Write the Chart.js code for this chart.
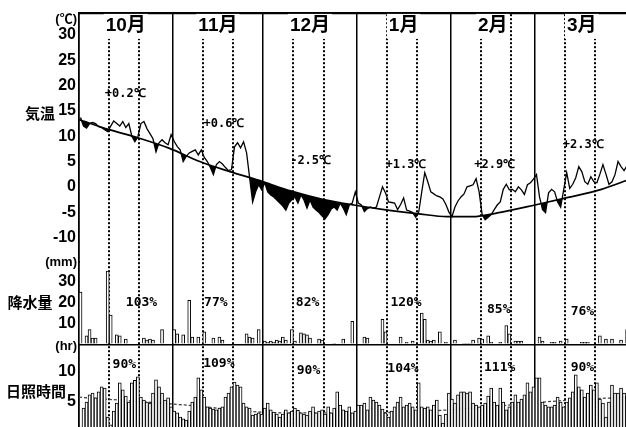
<!DOCTYPE html>
<html>
<head>
<meta charset="utf-8">
<script src="https://cdn.jsdelivr.net/npm/chart.js@4.4.1/dist/chart.umd.min.js"></script>
<style>
  html, body { margin: 0; padding: 0; overflow: hidden; background: #fff; }
  #box { position: relative; width: 630px; height: 432px; }
</style>
</head>
<body>
<div id="box"><canvas id="c" width="630" height="432"></canvas></div>
<script>
// ---- data: daily values, 1 Oct .. 31 Mar ----
const monthNames = ['10月', '11月', '12月', '1月', '2月', '3月'];
const monthDays = [31, 30, 31, 31, 28, 31];

const tempAnomaly = ['+0.2℃', '+0.6℃', '-2.5℃', '+1.3℃', '+2.9℃', '+2.3℃'];
const precipRatio = ['103%', '77%', '82%', '120%', '85%', '76%'];
const sunRatio = ['90%', '109%', '90%', '104%', '111%', '90%'];

const tempTicks = [30, 25, 20, 15, 10, 5, 0, -5, -10];
const precipTicks = [30, 20, 10, 0];
const sunTicks = [10, 5];

// daily mean temperature (℃)
const tempDaily = [
  13.7, 12.0, 11.6, 12.5, 12.7, 12.5, 11.9, 11.7, 11.3, 10.9, 12.0, 13.0, 12.5, 12.0, 12.9, 11.7, 12.5, 10.0, 8.9, 9.9, 12.5, 12.9, 11.5, 10.5, 9.5, 6.9, 8.7, 9.3, 8.7, 8.3, 10.3,
  9.0, 8.0, 7.3, 5.0, 6.0, 6.7, 7.0, 7.3, 6.3, 7.3, 5.8, 5.0, 3.8, 2.4, 4.4, 5.0, 4.5, 3.8, 3.2, 3.4, 7.9, 8.7, 7.7, 8.9, 6.7, 1.8, -3.0, -1.0, 0.4, -0.6,
  0.8, -1.0, -1.6, -2.0, -2.6, -3.2, -3.8, -4.6, -3.2, -2.5, -2.0, -3.2, -1.6, -2.6, -4.2, -2.6, -4.0, -4.6, -5.1, -5.8, -6.3, -5.5, -4.4, -4.0, -4.6, -3.2, -4.2, -5.5, -3.6, -3.2, -1.0,
  -3.2, -3.6, -4.9, -4.3, -4.0, -4.2, -4.0, -2.0, 0.0, -1.2, -3.0, -3.1, -3.2, -4.5, -3.5, -2.2, -4.6, -4.8, -5.1, -6.0, -5.0, -1.0, 2.8, 1.0, -1.0, -1.4, -1.8, -2.0, -2.4, -3.5, -5.0,
  -5.9, -4.0, -2.8, -2.0, -1.4, 0.0, 0.2, 0.4, 1.6, -1.0, -5.5, -6.5, -6.0, -5.5, -4.5, -3.6, -3.0, -0.5, 0.5, -0.6, -0.5, -1.0, 0.0, -0.6, -1.5, 0.4, 0.8, 1.5,
  2.4, -2.0, -4.5, -5.1, -1.2, -0.5, -1.0, -3.0, -4.0, -0.6, 2.8, -0.3, 0.5, 1.8, 4.0, 3.0, 1.0, 0.5, 2.0, 1.0, 0.8, 2.5, 4.4, 2.5, 0.5, 1.0, 2.4, 5.0, 4.0, 3.2, 4.2
];

// normal temperature curve (day offset from 1 Oct, ℃)
const normalTempDay = [0, 10, 20, 30, 40, 50, 61, 70, 81, 91, 101, 112, 122, 130, 140, 151, 162, 173, 182];
const normalTemp = [13.3, 11.3, 9.6, 7.6, 5.0, 3.0, 1.0, -0.8, -2.5, -3.6, -4.5, -5.3, -5.9, -5.9, -5.0, -3.6, -2.1, -0.5, 1.4];

// daily precipitation (mm)
const precipDaily = [
  25, 0, 4, 7, 3, 3, 0, 0, 0, 35, 14, 0, 4.5, 4, 0, 2.5, 0, 0, 0, 0, 0, 3, 2, 2.5, 2, 0, 0, 7, 0, 0, 0,
  7, 5, 0, 4.5, 0, 21, 3.5, 0, 3.5, 0, 6, 0, 0, 3, 0, 3.5, 2, 0, 0, 0, 0, 0, 0, 0, 5, 3.5, 3, 0, 7, 0,
  1.5, 1, 1.5, 1, 2, 1.5, 3.5, 2, 0, 7, 1.5, 0, 5.5, 5, 4.5, 3, 0, 0, 2.5, 2, 0, 0, 0, 0.5, 0, 0, 2.5, 0, 0, 11, 0,
  0, 0, 3.5, 3, 0, 0, 0, 0, 12, 6, 0, 0, 0, 0, 3.5, 0, 1, 0, 1.5, 0, 0, 15, 12, 2, 1.5, 2, 0, 6, 0, 1, 0,
  0, 2, 0, 0, 0.5, 0.5, 0.5, 2, 0, 3, 2.5, 0, 4, 1, 0, 0, 1, 0, 9, 5, 0, 1.5, 1.5, 1.5, 0, 0, 0, 0,
  0, 3.5, 1.5, 0, 0, 1, 1, 0, 1.5, 0, 2.5, 0, 0, 0, 0, 1, 1, 1, 0, 0, 0, 4, 0, 2.5, 0, 2.5, 0, 0, 2, 0, 7
];

// daily sunshine duration (hr)
const sunDaily = [
  0.8, 4.0, 5.0, 6.2, 6.5, 5.7, 6.7, 7.5, 7.3, 2.5, 1.2, 3.5, 4.8, 8.2, 7.0, 6.0, 5.0, 8.2, 8.6, 9.2, 5.8, 5.3, 5.0, 4.8, 6.5, 8.7, 7.5, 6.5, 5.3, 5.7, 4.2,
  3.5, 3.2, 2.5, 2.2, 2.0, 3.5, 5.0, 5.8, 9.0, 7.0, 5.8, 4.2, 4.0, 3.8, 3.7, 4.0, 4.2, 5.8, 6.5, 7.5, 8.3, 7.8, 7.5, 4.8, 4.2, 4.0, 2.8, 3.0, 3.2, 3.0,
  4.0, 4.8, 3.7, 3.3, 3.0, 2.5, 3.0, 3.7, 3.2, 3.5, 4.0, 3.6, 3.2, 3.0, 2.8, 3.5, 4.2, 3.2, 3.5, 3.7, 3.0, 4.2, 3.2, 4.0, 6.7, 4.5, 3.7, 3.5, 4.2, 3.2, 3.5,
  4.5, 4.5, 4.8, 3.7, 5.8, 5.3, 5.0, 4.5, 3.8, 3.2, 2.5, 3.5, 4.2, 5.0, 5.8, 4.2, 4.5, 4.8, 4.2, 3.7, 8.2, 4.2, 4.0, 4.2, 3.7, 4.5, 5.3, 2.8, 1.5, 3.0, 6.5,
  5.5, 4.8, 6.2, 6.7, 6.7, 6.5, 6.7, 4.8, 4.5, 4.2, 4.5, 4.8, 6.0, 7.3, 5.0, 4.5, 7.3, 5.0, 3.7, 4.2, 5.0, 6.2, 5.0, 5.5, 6.2, 8.2, 6.7, 7.5,
  9.0, 9.0, 5.0, 4.5, 4.2, 4.2, 4.5, 5.8, 5.0, 4.2, 5.0, 5.7, 6.7, 9.5, 7.5, 7.0, 5.8, 6.5, 7.8, 7.0, 8.2, 5.5, 4.8, 2.5, 5.0, 7.8, 6.5, 6.5, 7.3, 6.5, 5.8
];

// normal sunshine curve (day offset, hr)
const sunNormalDay = [0, 35, 67, 92, 107, 123, 143, 162, 182];
const sunNormal = [5.8, 4.5, 3.2, 3.2, 3.3, 3.7, 4.5, 5.3, 5.8];

// ---- derived helpers ----
const monthStart = monthDays.reduce((acc, d) => { acc.push(acc[acc.length - 1] + d); return acc; }, [0]);
const totalDays = monthStart[monthStart.length - 1];
const tenDayMarks = [];
monthStart.slice(0, -1).forEach(s => { tenDayMarks.push(s + 10, s + 20); });

const daily = vals => vals.map((v, i) => ({ x: i + 0.5, y: v }));
const curve = (days, vals) => days.map((d, i) => ({ x: d, y: vals[i] }));

const tickFont = { family: '"Liberation Sans", Arial, sans-serif', size: 16, weight: 'bold' };
const fixTicks = list => scale => { scale.ticks = list.map(v => ({ value: v })); };
// fixed gutter for the left axes; no extra room reserved for edge labels
const fixWidth = scale => {
  scale.width = 79;
  scale.paddingTop = 0;
  scale.paddingBottom = 0;
};

// ---- annotation text drawn at scale coordinates ----
const anomalySpot = [[15.3, 18.4], [48, 12.5], [76.7, 5.1], [108.3, 4.4], [137.7, 4.4], [167, 8.3]];
const precipSpot = [[20.7, 20], [45.3, 20], [75.7, 20], [108.3, 20], [139, 16.6], [166.7, 15.6]];
const sunSpot = [[15, 11.2], [46.3, 11.3], [76, 10.2], [107.3, 10.5], [139.3, 10.7], [166.7, 10.7]];

const annotate = {
  id: 'annotate',
  afterDraw(chart) {
    const { ctx, scales } = chart;
    const { x, yT, yP, yS } = scales;
    ctx.save();
    ctx.fillStyle = '#000';
    ctx.textBaseline = 'middle';

    // month headings
    ctx.font = 'bold 19px "Liberation Sans", "Noto Sans CJK JP", sans-serif';
    ctx.textAlign = 'center';
    monthNames.forEach((m, i) => {
      const px = x.getPixelForValue(monthStart[i] + monthDays[i] / 2);
      const py = yT.getPixelForValue(31.8);
      const w = ctx.measureText(m).width;
      ctx.fillStyle = '#fff';
      ctx.fillRect(px - w / 2 - 2, py - 12, w + 4, 25);
      ctx.fillStyle = '#000';
      ctx.fillText(m, px, py);
    });

    // monthly departures and ratios
    ctx.font = 'bold 12px "DejaVu Sans Mono", monospace';
    tempAnomaly.forEach((t, i) => ctx.fillText(t, x.getPixelForValue(anomalySpot[i][0]), yT.getPixelForValue(anomalySpot[i][1])));
    ctx.font = 'bold 13px "DejaVu Sans Mono", monospace';
    precipRatio.forEach((t, i) => ctx.fillText(t, x.getPixelForValue(precipSpot[i][0]), yP.getPixelForValue(precipSpot[i][1])));
    sunRatio.forEach((t, i) => ctx.fillText(t, x.getPixelForValue(sunSpot[i][0]), yS.getPixelForValue(sunSpot[i][1])));

    // panel titles
    ctx.font = 'bold 15px "Noto Sans CJK JP", sans-serif';
    ctx.fillText('気温', 40, yT.getPixelForValue(14.6));
    ctx.fillText('降水量', 30, yP.getPixelForValue(20));
    ctx.fillText('日照時間', 36, yS.getPixelForValue(6.8));

    // units
    ctx.textAlign = 'right';
    ctx.font = 'bold 13px "Liberation Sans", "Noto Sans CJK JP", sans-serif';
    ctx.fillText('(℃)', 77, yT.getPixelForValue(33.0));
    ctx.fillText('(mm)', 77, yP.getPixelForValue(39.4));
    ctx.fillText('(hr)', 77, yS.getPixelForValue(14.3));
    ctx.restore();
  }
};

const leftTicks = extra => Object.assign({ color: '#000', font: tickFont, padding: 3, autoSkip: false }, extra || {});

new Chart(document.getElementById('c'), {
  type: 'line',
  data: {
    datasets: [
      {
        label: '気温',
        data: daily(tempDaily),
        yAxisID: 'yT',
        borderColor: '#000',
        borderWidth: 1.3,
        pointRadius: 0,
        tension: 0,
        fill: { target: 1, above: 'rgba(0,0,0,0)', below: '#000' }
      },
      {
        label: '平年気温',
        data: curve(normalTempDay, normalTemp),
        yAxisID: 'yT',
        borderColor: '#000',
        borderWidth: 1.7,
        pointRadius: 0,
        cubicInterpolationMode: 'monotone',
        fill: false
      },
      {
        type: 'bar',
        label: '降水量',
        data: daily(precipDaily),
        yAxisID: 'yP',
        backgroundColor: '#fff',
        borderColor: '#000',
        borderWidth: 1,
        barPercentage: 1,
        categoryPercentage: 1,
        grouped: false
      },
      {
        type: 'bar',
        label: '日照時間',
        data: daily(sunDaily),
        yAxisID: 'yS',
        backgroundColor: '#fff',
        borderColor: '#000',
        borderWidth: 1,
        barPercentage: 1,
        categoryPercentage: 1,
        grouped: false
      },
      {
        label: '平年日照',
        data: curve(sunNormalDay, sunNormal),
        yAxisID: 'yS',
        borderColor: '#444',
        borderWidth: 1.3,
        borderDash: [3, 2],
        pointRadius: 0,
        cubicInterpolationMode: 'monotone',
        fill: false
      }
    ]
  },
  options: {
    responsive: false,
    animation: false,
    devicePixelRatio: 1,
    layout: { autoPadding: false, padding: { top: 13, left: 0, right: 1.4, bottom: 0 } },
    plugins: { legend: { display: false }, tooltip: { enabled: false } },
    scales: {
      x: {
        type: 'linear', position: 'bottom', min: 0, max: totalDays, offset: false,
        afterBuildTicks: fixTicks(monthStart),
        ticks: { display: false },
        grid: { color: '#000', lineWidth: 1.5, drawTicks: false, offset: false },
        border: { display: false }
      },
      xt: {
        type: 'linear', position: 'top', min: 0, max: totalDays, offset: false,
        afterBuildTicks: fixTicks(tenDayMarks),
        ticks: { display: false },
        grid: { color: '#000', lineWidth: 2, drawTicks: false, offset: false },
        border: { display: true, color: '#000', width: 2.2, dash: [2, 2] }
      },
      yS: {
        type: 'linear', position: 'left', stack: 'panels', stackWeight: 87.7,
        min: 0, max: 14.6,
        afterBuildTicks: fixTicks(sunTicks), afterFit: fixWidth,
        ticks: leftTicks(),
        grid: { display: false, drawTicks: false },
        border: { color: '#000', width: 1.6 }
      },
      yP: {
        type: 'linear', position: 'left', stack: 'panels', stackWeight: 82.3,
        min: 0, max: 39.4,
        afterBuildTicks: fixTicks(precipTicks), afterFit: fixWidth,
        ticks: leftTicks({ callback: v => (v === 0 ? '' : v) }),
        grid: { drawTicks: false, lineWidth: 1.6, color: c => (c.tick && c.tick.value === 0 ? '#000' : 'rgba(0,0,0,0)') },
        border: { color: '#000', width: 1.6 }
      },
      yT: {
        type: 'linear', position: 'left', stack: 'panels', stackWeight: 249,
        min: -14.86, max: 34.35,
        afterBuildTicks: fixTicks(tempTicks), afterFit: fixWidth,
        ticks: leftTicks(),
        grid: { display: false, drawTicks: false },
        border: { color: '#000', width: 1.6 }
      }
    }
  },
  plugins: [annotate]
});
</script>
</body>
</html>
